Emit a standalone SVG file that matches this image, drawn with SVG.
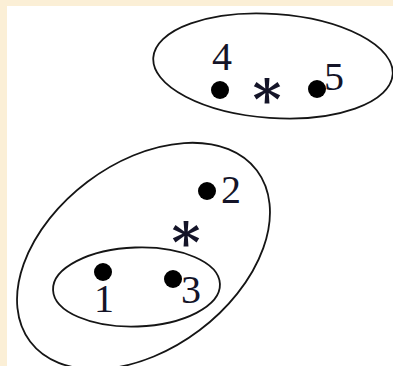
<svg xmlns="http://www.w3.org/2000/svg" width="393" height="366" viewBox="0 0 393 366">
<style>
.cl{fill:none;stroke:#151515;stroke-width:1.8}
.dot{fill:#000}
.lbl{font-family:"Liberation Serif","Times New Roman",serif;font-size:40px;fill:#141428}
.ast{font-family:"Liberation Serif","DejaVu Serif",serif;font-size:55px;font-weight:bold;fill:#141428;text-anchor:middle}
</style>
<rect width="393" height="366" fill="#fbefd6"/>
<rect x="7" y="6" width="386" height="360" fill="#ffffff"/>
<g id="clusters">
<ellipse id="cluster45" class="cl" cx="273" cy="66" rx="120" ry="52" transform="rotate(4 273 66)"/>
<ellipse id="cluster123" class="cl" cx="143.5" cy="256" rx="142" ry="93" transform="rotate(-37 143.5 256)"/>
<ellipse id="cluster13" class="cl" cx="136.5" cy="287" rx="83.5" ry="39.5" transform="rotate(-2 136.5 287)"/>
</g>
<g id="p4"><circle class="dot" cx="220" cy="90" r="9"/><text class="lbl" x="212" y="70">4</text></g>
<g id="p5"><circle class="dot" cx="317" cy="89" r="9"/><text class="lbl" x="324" y="90">5</text></g>
<g id="c45"><text class="ast" x="267" y="108">∗</text></g>
<g id="p2"><circle class="dot" cx="207" cy="191" r="9"/><text class="lbl" x="221" y="203">2</text></g>
<g id="c123"><text class="ast" x="186" y="251">∗</text></g>
<g id="p1"><circle class="dot" cx="103" cy="272" r="9"/><text class="lbl" x="94" y="312">1</text></g>
<g id="p3"><circle class="dot" cx="173" cy="279" r="9"/><text class="lbl" x="181" y="303">3</text></g>
</svg>
